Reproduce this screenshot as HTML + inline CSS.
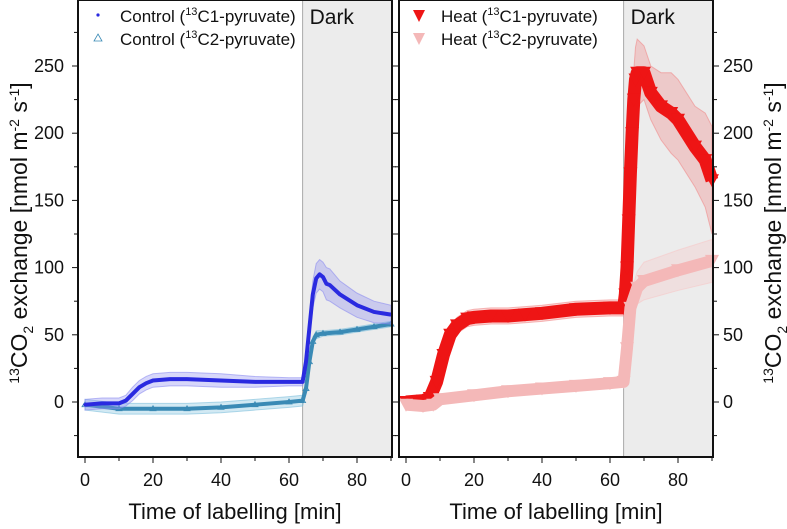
<!DOCTYPE html>
<html><head><meta charset="utf-8"><style>
body{margin:0;background:#fff;}
svg{display:block;font-family:"Liberation Sans",Arial,sans-serif;}
</style></head><body>
<svg id="chart" width="787" height="529" viewBox="0 0 787 529" xmlns="http://www.w3.org/2000/svg"></svg>
<script>
const cC1t=[0,5,10,12,14,16,18,20,25,30,40,50,60,64,65,66,67,68,69,70,71,72,75,80,85,90];
const cC1v=[-2,-1,-1,1,6,11,14,16,17,17,16,15,15,15,30,55,80,92,95,93,88,87,80,72,67,65];
const cC1e=[4,4,4,4,5,5,5,5,5,5,5,4,3,3,5,8,10,11,11,11,12,12,10,9,8,7];
const cC2t=[0,10,20,30,40,50,60,64,65,66,67,68,70,75,80,85,90];
const cC2v=[-2,-5,-5,-5,-4,-2,0,1,10,30,45,50,51,52,54,56,58];
const cC2e=[4,4,4,4,4,4,4,4,4,3,3,3,2,2,2,2,2];
const hC1t=[0,5,7,9,11,13,15,18,20,25,30,35,40,50,60,64,64.5,65,65.5,66,66.5,67,67.5,68,70,72,75,78,80,85,88,90];
const hC1v=[0,1,3,15,35,50,57,62,63,64,64,65,66,69,70,70,80,100,135,170,200,225,240,245,245,230,220,215,210,190,180,165];
const hC1e=[2,2,3,4,5,6,6,6,6,6,6,6,6,6,6,6,8,10,15,18,20,22,24,25,20,20,25,30,30,30,35,40];
const hC2t=[0,5,8,10,20,30,40,50,60,64,65,66,68,70,80,90];
const hC2v=[-2,-3,-2,2,5,8,10,12,14,15,40,70,85,90,98,105];
const hC2e=[3,3,3,3,2,2,2,2,2,2,6,10,12,14,15,16];
const xTicks=[0,20,40,60,80];
const yTicks=[0,50,100,150,200,250];

const NS="http://www.w3.org/2000/svg";
const svg=document.getElementById('chart');
function el(tag,attrs,parent){const e=document.createElementNS(NS,tag);for(const k in attrs)e.setAttribute(k,attrs[k]);(parent||svg).appendChild(e);return e;}
const Y0=402, YK=(402-66)/250;
function yS(v){return Y0-v*YK;}
const TOP=0,BOT=457;

function panel(name,x0,xRight,zeroX,side,series,legend){
  const XK=3.4;
  const xS=t=>zeroX+t*XK;
  const g=el('g',{});  
  const dark=el('rect',{x:xS(64),y:TOP,width:xRight-xS(64),height:BOT-TOP,fill:'#ececec'},g);
  
  el('line',{x1:xS(64),x2:xS(64),y1:TOP,y2:BOT,stroke:'#aaa','stroke-width':1},g);
  const dl=el('text',{x:xS(64)+7,y:24,'font-size':21,fill:'#111'},g);dl.textContent='Dark';
  
  series.forEach(s=>{
    const sg=el('g',{},g);
    let up='',dn='';
    s.t.forEach((t,i)=>{up+=(i?'L':'M')+xS(t)+','+yS(s.v[i]+s.e[i]);});
    for(let i=s.t.length-1;i>=0;i--)dn+='L'+xS(s.t[i])+','+yS(s.v[i]-s.e[i]);
    el('path',{d:up+dn+'Z',fill:s.ec,'fill-opacity':0.35,stroke:s.ec,'stroke-opacity':0.6,'stroke-width':1},sg);
    let d='';s.t.forEach((t,i)=>{d+=(i?'L':'M')+xS(t)+','+yS(s.v[i]);});
    el('path',{d:d,fill:'none',stroke:s.c,'stroke-width':s.lw,'stroke-linejoin':'round'},sg);
    s.t.forEach((t,i)=>{
      const x=xS(t),y=yS(s.v[i]);
      if(s.m==='dot'){el('circle',{cx:x,cy:y,r:1.6,fill:s.c},sg);}
      else if(s.m==='tri'){el('path',{d:`M${x},${y-3}L${x+3},${y+2}L${x-3},${y+2}Z`,fill:'none',stroke:s.c,'stroke-width':0.8},sg);}
      else {el('path',{d:`M${x-7},${y-6}L${x+7},${y-6}L${x},${y+7}Z`,fill:s.c},sg);}
    });
  });
  el('rect',{x:x0,y:TOP,width:xRight-x0,height:BOT-TOP,fill:'none',stroke:'#111','stroke-width':2},g);
  for(let t=0;t<=90;t+=10){const L=t%20===0?6:4;el('line',{x1:xS(t),x2:xS(t),y1:BOT,y2:BOT+L,stroke:'#111','stroke-width':1},g);}
  xTicks.forEach(t=>{const tx=el('text',{x:xS(t),y:BOT+29,'font-size':18,'text-anchor':'middle',fill:'#111'},g);tx.textContent=t;
    });
  const xt=el('text',{x:(x0+xRight)/2,y:519,'font-size':22,'text-anchor':'middle',fill:'#111'},g);xt.textContent='Time of labelling [min]';
  
  for(let v=-25;v<=275;v+=25){const L=v%50===0?6:4;const y=yS(v);
    el('line',{x1:x0-L,x2:x0,y1:y,y2:y,stroke:'#111','stroke-width':1},g);
    el('line',{x1:xRight,x2:xRight+L,y1:y,y2:y,stroke:'#111','stroke-width':1},g);}
  yTicks.forEach(v=>{const lx=side==='left'?x0-14:xRight+10;
    const tx=el('text',{x:lx,y:yS(v)+6,'font-size':18,'text-anchor':side==='left'?'end':'start',fill:'#111'},g);tx.textContent=v;
    });
  legend.forEach((l,i)=>{const y=16+i*23;
    const lg=el('g',{},g);
    const mx=x0+20;
    if(l.m==='dot')el('circle',{cx:mx,cy:y-1,r:1.6,fill:l.c},lg);
    else if(l.m==='tri')el('path',{d:`M${mx},${y-5}L${mx+4},${y+2}L${mx-4},${y+2}Z`,fill:'none',stroke:l.c,'stroke-width':0.8},lg);
    else el('path',{d:`M${mx-6},${y-6}L${mx+6},${y-6}L${mx},${y+6}Z`,fill:l.c},lg);
    const tx=el('text',{x:x0+42,y:y+6,'font-size':17,fill:'#111'},lg);
    tx.innerHTML=l.pre+'(<tspan font-size="11" dy="-7">13</tspan><tspan dy="7">'+l.post+'</tspan>';
  });
}
panel('control-panel',78,392,85,'left',[
  {name:'series-control-c2',t:cC2t,v:cC2v,e:cC2e,c:'#3a8ab5',ec:'#7fc0dc',m:'tri',lw:4},
  {name:'series-control-c1',t:cC1t,v:cC1v,e:cC1e,c:'#2a2ae0',ec:'#8c8cf0',m:'dot',lw:4}
],[{m:'dot',c:'#2a2ae0',pre:'Control ',post:'C1-pyruvate)'},{m:'tri',c:'#3a8ab5',pre:'Control ',post:'C2-pyruvate)'}]);
panel('heat-panel',399,713,406,'right',[
  {name:'series-heat-c1',t:hC1t,v:hC1v,e:hC1e,c:'#ee1515',ec:'#f08a8a',m:'big',lw:13},
  {name:'series-heat-c2',t:hC2t,v:hC2v,e:hC2e,c:'#f4b8b8',ec:'#f6c8c8',m:'big',lw:12}
],[{m:'big',c:'#ee1515',pre:'Heat ',post:'C1-pyruvate)'},{m:'big',c:'#f4b8b8',pre:'Heat ',post:'C2-pyruvate)'}]);
function yTitle(x,rot,name){
  const t=el('text',{x:0,y:0,'font-size':23,'text-anchor':'middle',fill:'#111',transform:`translate(${x},233) rotate(${rot})`});
  
  t.innerHTML='<tspan font-size="14" dy="-8">13</tspan><tspan dy="8">CO</tspan><tspan font-size="14" dy="6">2</tspan><tspan dy="-6"> exchange [nmol m</tspan><tspan font-size="14" dy="-8">-2</tspan><tspan dy="8"> s</tspan><tspan font-size="14" dy="-8">-1</tspan><tspan dy="8">]</tspan>';
}
yTitle(27,-90,'y-axis-title-left');
yTitle(781,-90,'y-axis-title-right');
</script>
</body></html>
